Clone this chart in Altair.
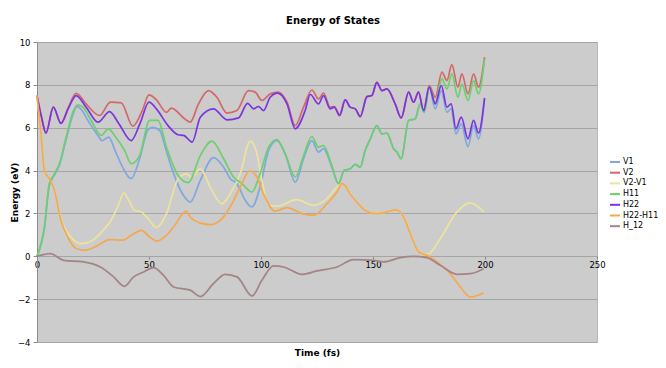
import altair as alt
import pandas as pd

# ---- data ----
V1_t = [0, 3.3, 5.5, 7.8, 10, 13, 16, 17.9, 20.5, 22.7, 27.2, 29, 32, 35, 38.5, 42, 45.8, 49.5, 51.5, 54.8, 57.5, 60, 64.5, 68.4,
        72.9, 78.8, 83.3, 86.3, 89.2, 93, 95.9, 99.6, 103.4, 107.1, 110.8, 115.3, 119, 122.7, 125.7, 127.9, 131.6, 134.6,
        137.1, 139.8, 142.1, 144.3, 146.5, 148.8, 151.7, 154, 156.2, 159.2, 160.7, 162.6, 165.9, 168.8, 171.1, 172.9,
        175.1, 177.8, 180.5, 183, 184.9, 187, 189.4, 192.4, 194.9, 197.1, 199.8]
V1_e = [0, 1.3, 3.3, 3.8, 4.25, 5.45, 6.6, 6.98, 6.75, 6.34, 5.64, 5.4, 5.56, 4.9, 4.1, 3.62, 4.55, 5.9, 6.02, 5.87, 5.0, 4.16, 3.0, 2.53,
        3.54, 4.6, 4.16, 3.62, 3.39, 2.61, 2.3, 3.23, 4.94, 5.4, 4.78, 3.46, 4.55, 5.4, 4.86, 5.02, 4.16, 3.39,
        4.0, 4.08, 4.29, 4.16, 4.94, 5.48, 6.1, 5.71, 5.75, 5.02, 4.86, 4.55, 6.34, 6.41, 7.11, 6.72,
        7.89, 6.88, 7.73, 6.72, 6.88, 5.71, 6.18, 5.12, 6.1, 5.48, 7.34]

V2_t = [0, 2, 4, 7.3, 10.7, 14, 17.5, 22, 27.9, 32.8, 37.6, 42.8, 47, 50, 53.3, 57.8, 60, 66, 68.4, 72.1, 76.6, 80.3, 84.8,
        89.2, 94.4, 97.4, 100.4, 104.1, 107.8, 111.6, 115.3, 119, 122.7, 125.7, 127.9, 130.9, 132.7, 135.1, 137.6,
        139.8, 142.1, 144.3, 147.3, 149.5, 151.7, 154, 156.2, 159.9, 162.6, 165.9, 168.1, 170.3, 172.6,
        175.1, 177.8, 180.8, 183, 185.2, 187.9, 189.7, 192.4, 194.9, 197.1, 199.8]
V2_e = [7.5, 6.5, 5.75, 6.96, 6.2, 6.95, 7.6, 7.1, 6.57, 7.19, 7.16, 6.07, 6.8, 7.53, 7.3, 6.72, 6.91, 6.41, 6.26, 7.11, 7.73, 7.42, 6.68,
        6.8, 7.73, 7.66, 7.27, 7.58, 7.66, 7.19, 6.1, 6.96, 7.76, 7.34, 7.61, 6.96, 6.99, 6.61, 7.3,
        6.96, 6.88, 6.52, 7.45, 7.5, 8.12, 7.73, 7.81, 7.11, 6.46, 7.66, 7.19, 7.66, 6.8,
        7.97, 7.42, 8.59, 8.2, 8.94, 7.89, 8.51, 7.58, 8.51, 7.89, 9.29]

V21_t = [0, 1.8, 3.3, 5.5, 7.8, 10.7, 13.7, 16.5, 19.7, 24.9, 29, 33.1, 36, 38.8, 41, 43.6, 46.6, 50, 53.3, 57.8, 63, 66.7, 68.9,
         72.9, 77.3, 82.5, 86.3, 90.7, 95.2, 98.2, 100.4, 103.4, 107.1, 116, 123.5, 129.4, 133.9, 136.1, 137.6, 139.8,
         142.1, 146.5, 151, 156.2, 159.9, 161.5, 163.7, 166.6, 170.4, 172.5, 174.8, 180, 187.5, 193.4, 199.4]
V21_e = [7.5, 5.71, 4.0, 3.62, 3.07, 1.75, 1.06, 0.75, 0.59, 0.75, 1.15, 1.68, 2.3, 2.95, 2.6, 2.14, 2.07, 1.7, 1.34, 1.99, 3.62, 3.85, 3.7,
         4.08, 3.23, 2.45, 2.92, 3.85, 5.37, 4.78, 3.54, 2.38, 2.34, 2.64, 2.38, 2.69, 3.23, 3.39, 3.3, 2.9,
         2.61, 2.14, 1.99, 2.07, 2.17, 2.12, 1.83, 1.06, 0.2, 0.1, 0.12, 0.82, 2.07, 2.49, 2.07]

H11_t = [0, 3.3, 5.5, 7.8, 10, 13, 16, 18.2, 20.5, 24.2, 28.7, 31.9, 34.6, 39.1, 42.1, 45.8, 50.3, 54, 57.8, 63, 67.5,
         72.9, 78.1, 83.3, 87.7, 91.5, 95.9, 99.6, 103.4, 107.1, 110.8, 115.3, 119, 122.7, 125.7, 127.9, 131.6, 134.6,
         137.1, 139.8, 142.1, 144.3, 146.5, 148.8, 151.7, 154, 156.2, 159.2, 160.7, 162.6, 165.9, 168.8, 171.1, 172.9,
         175.1, 177.8, 180.8, 183, 185.2, 187.9, 189.7, 192.4, 194.9, 197.1, 199.8]
H11_e = [0, 1.37, 3.39, 3.85, 4.32, 5.56, 6.72, 7.07, 6.96, 6.34, 5.64, 5.95, 5.64, 4.94, 4.32, 4.7, 6.34, 6.34, 5.09, 3.77, 3.44,
         4.7, 5.37, 4.55, 3.7, 3.39, 3.0, 3.85, 5.09, 5.45, 4.78, 3.7, 4.7, 5.59, 5.09, 5.17, 4.24, 3.39,
         4.0, 4.08, 4.29, 4.16, 4.94, 5.48, 6.1, 5.71, 5.75, 5.02, 4.86, 4.55, 6.34, 6.41, 7.11, 6.72,
         7.89, 7.19, 8.28, 7.81, 8.51, 7.42, 8.04, 7.27, 8.2, 7.58, 9.21]

H22_t = [0, 2, 4, 7.3, 10.7, 14, 17.5, 22, 27.2, 32.4, 36.5, 42.1, 46, 50, 53.3, 58.5, 63, 65.5, 69.3, 72.9, 78.8, 84.8, 90,
         94, 96.7, 98.9, 101.1, 104.1, 107.4, 111.6, 115.3, 119.7, 122, 125.7, 127.9, 130.9, 132.7, 135.1, 137.6,
         139.8, 142.1, 144.3, 147.3, 149.5, 151.7, 154, 156.2, 159.9, 162.6, 165.9, 168.1, 170.3, 172.6,
         175.1, 177.8, 180.5, 183, 184.9, 187, 189.4, 192.4, 194.9, 197.1, 199.8]
H22_e = [7.5, 6.5, 5.75, 6.96, 6.2, 6.9, 7.5, 6.95, 6.26, 6.75, 6.2, 5.4, 6.2, 7.19, 6.88, 6.1, 5.67, 5.64, 5.33, 6.49, 6.88, 6.37, 6.46,
         7.14, 6.88, 6.99, 6.8, 7.42, 7.61, 7.11, 5.95, 6.8, 7.55, 7.11, 7.5, 6.88, 6.96, 6.57, 7.3,
         6.96, 6.88, 6.52, 7.45, 7.5, 8.12, 7.73, 7.81, 7.11, 6.46, 7.66, 7.19, 7.66, 6.8,
         7.89, 7.11, 7.97, 6.96, 7.11, 5.95, 6.49, 5.48, 6.34, 5.75, 7.39]

H2211_t = [0, 1.8, 3.3, 5.5, 7.8, 10.7, 13.7, 17.5, 21.2, 27.2, 32.4, 38.4, 42.1, 46.6, 50.3, 53.3, 57, 61.5, 66.5, 68.4,
           72.9, 77.3, 82.5, 87, 90.7, 94.9, 98.2, 101.1, 106.3, 111.6, 118.3, 123.5, 129.4, 133.9, 136.1, 137.6, 139.8,
           142.1, 146.5, 151, 156.2, 159.9, 161.5, 163.7, 166.6, 170.4, 172.5, 174.1, 178.6, 184.5, 189, 193.4, 199.4]
H2211_e = [7.5, 5.71, 4.0, 3.62, 3.07, 1.68, 0.9, 0.36, 0.28, 0.51, 0.78, 0.75, 0.98, 1.21, 0.9, 0.71, 0.9, 1.44, 2.11, 1.83,
           1.55, 1.48, 1.75, 2.45, 3.23, 3.98, 3.7, 2.92, 2.11, 2.27, 1.99, 1.91, 2.45, 3.0, 3.39, 3.3, 2.9,
           2.61, 2.14, 1.99, 2.07, 2.17, 2.12, 1.83, 1.06, 0.2, 0.1, 0.05, -0.26, -0.81, -1.43, -1.9, -1.71]

H12_t = [0, 5.9, 11.9, 20.8, 28.3, 34.2, 39, 43.1, 47.6, 52, 56.5, 61, 68.4, 72.9, 78.8, 84, 89.3, 96, 100.4, 105.6, 110.1,
         118.3, 125, 133.9, 141.3, 150.3, 154.7, 162.2, 168.1, 174.1, 180, 187.5, 193.4, 199.4]
H12_e = [0, 0.12, -0.19, -0.26, -0.5, -0.96, -1.4, -0.96, -0.73, -0.53, -0.89, -1.43, -1.58, -1.88, -1.27, -0.84, -0.96, -1.85, -1.12, -0.45, -0.5,
         -0.84, -0.68, -0.5, -0.16, -0.19, -0.26, -0.06, 0, -0.06, -0.42, -0.84, -0.81, -0.58]

names = ["V1", "V2", "V2-V1", "H11", "H22", "H22-H11", "H_12"]
colors = ["#7fa8e0", "#d46868", "#ece49a", "#6cd06c", "#7a35e0", "#f5a84e", "#a48484"]
x_ticks = [0, 50, 100, 150, 200, 250]
y_ticks = [-4, -2, 0, 2, 4, 6, 8, 10]

series = [
    ("V1", V1_t, V1_e), ("V2", V2_t, V2_e), ("V2-V1", V21_t, V21_e), ("H11", H11_t, H11_e),
    ("H22", H22_t, H22_e), ("H22-H11", H2211_t, H2211_e), ("H_12", H12_t, H12_e),
]
rows = []
for name, ts, es in series:
    for t, e in zip(ts, es):
        rows.append({"series": name, "t": t, "E": e})
df = pd.DataFrame(rows)

FONT = "DejaVu Sans"

chart = alt.Chart(df).mark_line(interpolate="monotone", strokeWidth=1.7).encode(
    x=alt.X("t:Q", scale=alt.Scale(domain=[0, 250], nice=False),
            axis=alt.Axis(values=x_ticks, title="Time (fs)", offset=-86, grid=False,
                          domainColor="#a5a5a5", tickColor="#888888", tickSize=3,
                          labelFontSize=8.5, labelPadding=1, labelColor="#000000", labelFont=FONT,
                          labelFlush=False,
                          titleY=96, titleBaseline="middle", titleFontSize=9, titleFontWeight="bold",
                          titleFont=FONT, titleColor="#000000")),
    y=alt.Y("E:Q", scale=alt.Scale(domain=[-4, 10], nice=False),
            axis=alt.Axis(values=y_ticks, title="Energy (eV)", grid=True, gridColor="#a5a5a5",
                          domainColor="#8c8c8c", tickColor="#8c8c8c", tickSize=4, labelPadding=3,
                          labelFontSize=8.5, labelColor="#000000", labelFont=FONT, labelFlush=False,
                          titleX=-23, titleY=150, titleAngle=270, titleBaseline="middle",
                          titleFontSize=9, titleFontWeight="bold", titleFont=FONT, titleColor="#000000")),
    color=alt.Color("series:N", scale=alt.Scale(domain=names, range=colors),
                    legend=alt.Legend(title=None, orient="none", legendX=572, legendY=114,
                                      symbolType="stroke", symbolSize=100, symbolStrokeWidth=2,
                                      labelFontSize=8, labelFont=FONT, labelColor="#000000",
                                      labelOffset=2, rowPadding=0.7, labelLimit=80)),
).properties(
    width=560, height=300,
    title=alt.TitleParams("Energy of States", fontSize=10, fontWeight="bold", font=FONT,
                          dx=16, offset=12, color="#000000"),
    autosize=alt.AutoSizeParams(type="none"),
    padding={"left": 29, "top": 34, "right": 61, "bottom": 18},
).configure_view(fill="#cccccc", stroke="#b8b8b8")

chart.save("out.html", embed_options={"renderer": "svg", "actions": False})
